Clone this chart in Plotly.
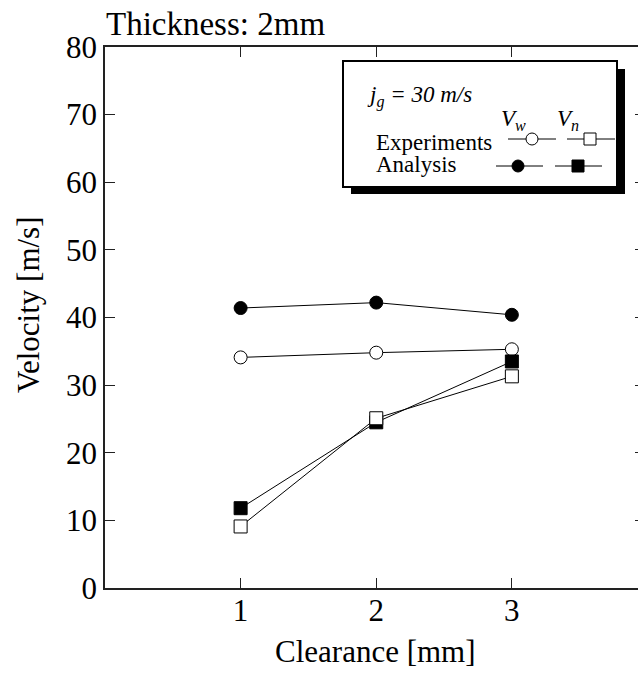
import plotly.graph_objects as go

# Clearance [mm] and velocities [m/s], thickness 2 mm, j_g = 30 m/s
clearance = [1, 2, 3]
vw_analysis = [41.4, 42.2, 40.4]
vw_experiment = [34.1, 34.8, 35.3]
vn_analysis = [11.8, 24.5, 33.5]
vn_experiment = [9.1, 25.1, 31.3]

y_ticks = [0, 10, 20, 30, 40, 50, 60, 70, 80]
x_ticks = [1, 2, 3]

FONT = "'Times New Roman', 'Liberation Serif', Times, serif"
W, H = 638, 673
L, R, T, B = 105, 0, 47, 85
PW, PH = W - L - R, H - T - B


def px(x):
    return (x - L) / PW


def py(y):
    return (H - B - y) / PH


fig = go.Figure()

series = [
    (vw_analysis, "circle", "black"),
    (vw_experiment, "circle", "white"),
    (vn_analysis, "square", "black"),
    (vn_experiment, "square", "white"),
]
for vals, sym, fill in series:
    fig.add_trace(go.Scatter(
        x=clearance, y=vals, mode="lines+markers",
        line=dict(color="black", width=1),
        marker=dict(symbol=sym, size=13, color=fill,
                    line=dict(color="black", width=1)),
        showlegend=False, hoverinfo="skip", cliponaxis=False,
    ))

# empty trace so the right-hand tick axis is drawn
fig.add_trace(go.Scatter(x=[], y=[], yaxis="y2", showlegend=False))

shapes = []
annotations = []

# legend box with drop shadow
shapes.append(dict(type="rect", xref="paper", yref="paper",
                   x0=px(351), x1=px(625), y0=py(69), y1=py(194),
                   fillcolor="black", line=dict(width=0)))
shapes.append(dict(type="rect", xref="paper", yref="paper",
                   x0=px(343), x1=px(617), y0=py(61), y1=py(187),
                   fillcolor="white", line=dict(color="black", width=2)))


def key(xa, xb, xm, y, sym, fill):
    shapes.append(dict(type="line", xref="paper", yref="paper",
                       x0=px(xa), x1=px(xb), y0=py(y), y1=py(y),
                       line=dict(color="black", width=1)))
    r = 6
    shapes.append(dict(type=sym, xref="paper", yref="paper",
                       x0=px(xm - r), x1=px(xm + r),
                       y0=py(y - r), y1=py(y + r),
                       fillcolor=fill, line=dict(color="black", width=1)))


key(508, 556, 532, 139, "circle", "white")
key(567, 615, 590, 139, "rect", "white")
key(496, 543, 518, 166, "circle", "black")
key(555, 602, 578, 166, "rect", "black")


def text(s, x, y, size, xanchor="left", yanchor="middle", angle=0):
    annotations.append(dict(
        text=s, x=px(x), y=py(y), xref="paper", yref="paper",
        xanchor=xanchor, yanchor=yanchor, showarrow=False, textangle=angle,
        font=dict(family=FONT, size=size, color="black"),
    ))


text("<i>j<sub>g</sub> = 30 m/s</i>", 365, 97, 23)
text("<i>V<sub>w</sub></i>", 513, 120, 23, xanchor="center")
text("<i>V<sub>n</sub></i>", 568, 120, 23, xanchor="center")
text("Experiments", 374, 142, 23)
text("Analysis", 374, 164, 23)

text("Thickness: 2mm", 104, 24, 33)
text("Velocity [m/s]", 28, 305, 31, xanchor="center", angle=-90)
text("Clearance [mm]", 375, 651, 31, xanchor="center")

fig.update_layout(
    width=W, height=H,
    margin=dict(l=L, r=R, t=T, b=B, pad=0),
    paper_bgcolor="white", plot_bgcolor="white",
    font=dict(family=FONT, size=31, color="black"),
    shapes=shapes, annotations=annotations,
    xaxis=dict(
        range=[0, 3.93], tickvals=x_ticks, ticks="inside", ticklen=10,
        tickwidth=1, tickcolor="#222", showline=True, linecolor="#222",
        linewidth=1.5, mirror="ticks", showgrid=False, zeroline=False,
        tickfont=dict(family=FONT, size=31), ticklabelstandoff=-6,
    ),
    yaxis=dict(
        range=[0, 80], tickvals=y_ticks, ticks="inside", ticklen=10,
        tickwidth=1, tickcolor="#222", showline=True, linecolor="#222",
        linewidth=1.5, showgrid=False, zeroline=False,
        tickfont=dict(family=FONT, size=31),
    ),
    yaxis2=dict(
        range=[0, 80], tickvals=y_ticks, overlaying="y", side="right",
        ticks="inside", ticklen=3, tickwidth=1, tickcolor="#222",
        showticklabels=False, showline=False, showgrid=False, zeroline=False,
    ),
)

fig.write_html("out.html")
